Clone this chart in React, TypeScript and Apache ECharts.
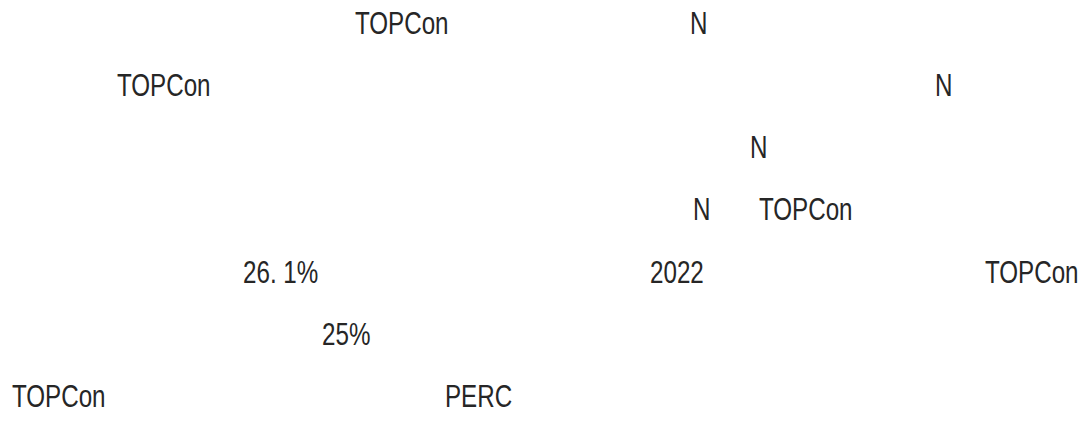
import React, { useEffect, useRef } from "react";
import * as echarts from "echarts";

// Visible text fragments, line by line
const line1 = ["TOPCon", "N"];
const line2 = ["TOPCon", "N"];
const line3 = ["N"];
const line4 = ["N", "TOPCon"];
const line5 = ["26. 1%", "2022", "TOPCon"];
const line6 = ["25%"];
const line7 = ["TOPCon", "PERC"];

const lines = [line1, line2, line3, line4, line5, line6, line7];
// layout: left x of each fragment per line
const xs = [
  [355, 690],
  [117, 935],
  [750],
  [693, 759],
  [243, 650, 985],
  [322],
  [12, 445],
];
const lineTop = 8;
const lineGap = 62.1;

export default function App() {
  const ref = useRef<HTMLDivElement>(null);
  useEffect(() => {
    if (!ref.current) return;
    const chart = echarts.init(ref.current, undefined, { renderer: "svg" });
    const elements: any[] = [];
    lines.forEach((ln, i) => {
      ln.forEach((t, j) => {
        elements.push({
          type: "text",
          x: xs[i][j],
          y: lineTop + i * lineGap,
          scaleX: 0.78,
          style: {
            text: t,
            fill: "#262626",
            font: "31px 'Liberation Sans', sans-serif",
            textVerticalAlign: "top",
          },
        });
      });
    });
    chart.setOption({
      animation: false,
      backgroundColor: "#fff",
      graphic: { elements },
    });
    return () => chart.dispose();
  }, []);
  return <div ref={ref} style={{ width: 1086, height: 421, position: "absolute", left: 0, top: 0 }} />;
}
